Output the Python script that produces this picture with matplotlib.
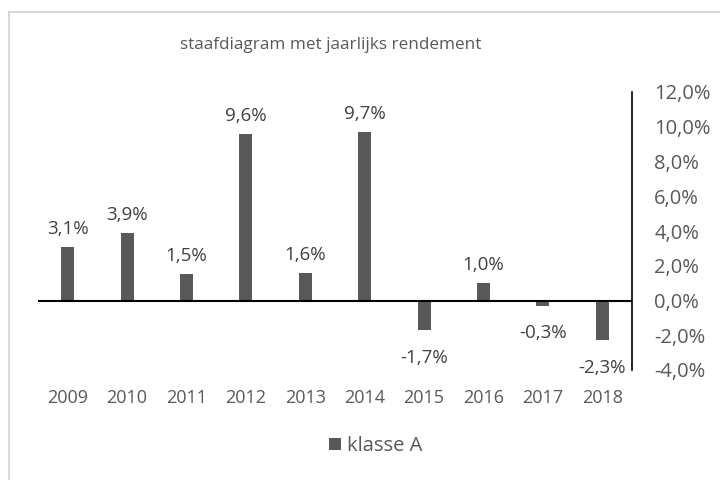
import matplotlib.pyplot as plt
from matplotlib.patches import Rectangle
from matplotlib.ticker import FuncFormatter

years = ["2009", "2010", "2011", "2012", "2013", "2014", "2015", "2016", "2017", "2018"]
rendement = [3.1, 3.9, 1.5, 9.6, 1.6, 9.7, -1.7, 1.0, -0.3, -2.3]
yticks = [-4, -2, 0, 2, 4, 6, 8, 10, 12]

plt.rcParams['font.family'] = ['Open Sans', 'DejaVu Sans']

fig = plt.figure(figsize=(7.2, 4.8), dpi=100)
W, H = 720, 480

# light chart border (Excel style), runs off the right and bottom edge
fig.patches.append(Rectangle((9 / W, -0.1), 1, 1.1 - 12 / H, transform=fig.transFigure,
                             fill=False, edgecolor='#d9d9d9', linewidth=1.5))

ax = fig.add_axes([38 / W, 1 - 370 / H, (632 - 38) / W, (370 - 92) / H])
x = list(range(len(years)))
ax.bar(x, rendement, width=0.22, color='#595959', label='klasse A')

ax.set_xlim(-0.5, len(years) - 0.5)
ax.set_ylim(-4, 12)
ax.set_yticks(yticks)
ax.yaxis.set_major_formatter(FuncFormatter(lambda v, p: f"{v:.1f}%".replace('.', ',')))
ax.yaxis.tick_right()
ax.tick_params(axis='y', length=0, pad=16, labelsize=14.5, labelcolor='#595959')

ax.set_xticks(x)
ax.set_xticklabels(years)
ax.tick_params(axis='x', length=0, pad=14, labelsize=13, labelcolor='#595959')

for s in ['top', 'left', 'bottom']:
    ax.spines[s].set_visible(False)
ax.spines['right'].set_color('black')
ax.spines['right'].set_linewidth(1.2)
ax.axhline(0, color='black', linewidth=1.5)

for xi, v in zip(x, rendement):
    txt = f"{v:.1f}%".replace('.', ',')
    off = 13 if v >= 0 else -20
    ax.annotate(txt, (xi, v), xytext=(0, off), textcoords='offset points',
                ha='center', va='center', fontsize=13.5, color='#404040')

fig.text(331 / W, 1 - 45 / H, 'staafdiagram met jaarlijks rendement',
         ha='center', va='center', fontsize=12.3, color='#595959')

fig.legend(loc='center', bbox_to_anchor=(376 / W, 1 - 446 / H), frameon=False,
           fontsize=14.5, handlelength=0.6, handleheight=0.6, handletextpad=0.3,
           labelcolor='#595959')

fig.savefig('out.png', dpi=100)
